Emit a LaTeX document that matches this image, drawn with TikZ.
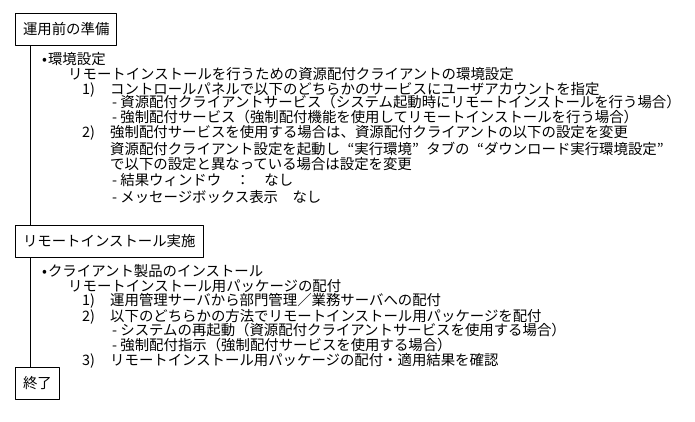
\documentclass[tikz,border=0pt]{standalone}
\usepackage{fontspec}
\setmainfont{Noto Sans CJK JP}
% 全角幅の引用符
\newcommand{\oq}{\makebox[1em][r]{“}}
\newcommand{\cq}{\makebox[1em][l]{”}}
\begin{document}
\begin{tikzpicture}[x=1pt, y=-1pt, line join=round, line cap=round,
	font=\fontsize{14.4}{15}\selectfont,
	stage/.style={draw, line width=1pt, anchor=north west, minimum height=32pt, inner xsep=7.5pt, inner ysep=0pt},
	txt/.style={anchor=base west, inner sep=0pt}]
	\useasboundingbox (0,0) rectangle (695,422);
	% 段階の枠
	\node[stage] (prep) at (15,13) {運用前の準備};
	\node[stage] (inst) at (15,225) {リモートインストール実施};
	\node[stage] (fin) at (15,367) {終了};
	% 縦の線
	\draw[line width=1pt] ([xshift=15pt]prep.south west)--([xshift=15pt]inst.north west);
	\draw[line width=1pt] ([xshift=15pt]inst.south west)--([xshift=15pt]fin.north west);
	% 運用前の準備の内容
	\path
	(42,65) node[txt] (env) {•\kern1pt 環境設定}
	(68,80) node[txt] (envsub) {リモートインストールを行うための資源配付クライアントの環境設定}
	(82,95) node[txt] (pa) {1)}
	(110,95) node[txt] (pat) {コントロールパネルで以下のどちらかのサービスにユーザアカウントを指定}
	(112,108) node[txt] (paa) {- 資源配付クライアントサービス（システム起動時にリモートインストールを行う場合）}
	(112,123) node[txt] (pab) {- 強制配付サービス（強制配付機能を使用してリモートインストールを行う場合）}
	(82,138) node[txt] (pb) {2)}
	(110,138) node[txt] (pbt) {強制配付サービスを使用する場合は、資源配付クライアントの以下の設定を変更}
	(110,155) node[txt] (pbu) {資源配付クライアント設定を起動し\oq 実行環境\cq タブの\oq ダウンロード実行環境設定\cq}
	(110,169) node[txt] (pbv) {で以下の設定と異なっている場合は設定を変更}
	(112,185) node[txt] (pba) {- 結果ウィンドウ　：　なし}
	(112,202) node[txt] (pbb) {- メッセージボックス表示　なし};
	% リモートインストール実施の内容
	\path
	(42,276) node[txt] (cli) {•\kern1pt クライアント製品のインストール}
	(68,291) node[txt] (clisub) {リモートインストール用パッケージの配付}
	(82,305) node[txt] (qa) {1)}
	(110,305) node[txt] (qat) {運用管理サーバから部門管理／業務サーバへの配付}
	(82,321) node[txt] (qb) {2)}
	(110,321) node[txt] (qbt) {以下のどちらかの方法でリモートインストール用パッケージを配付}
	(112,335) node[txt] (qba) {- システムの再起動（資源配付クライアントサービスを使用する場合）}
	(112,350) node[txt] (qbb) {- 強制配付指示（強制配付サービスを使用する場合）}
	(82,365) node[txt] (qc) {3)}
	(110,365) node[txt] (qct) {リモートインストール用パッケージの配付・適用結果を確認};
\end{tikzpicture}
\end{document}
